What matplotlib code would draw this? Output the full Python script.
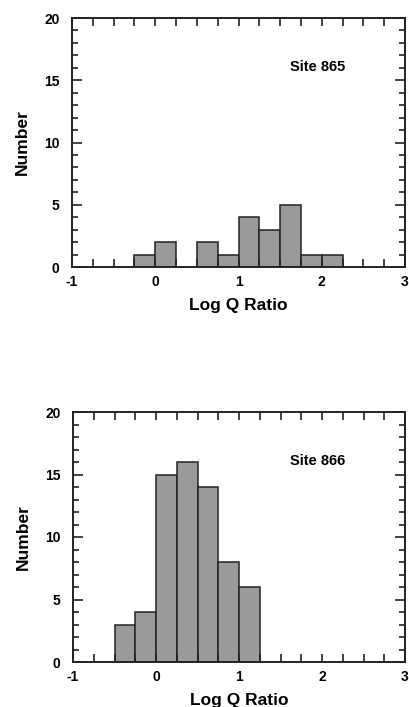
import matplotlib
matplotlib.use('Agg')
import matplotlib.pyplot as plt
from matplotlib.ticker import MultipleLocator

plt.rcParams['font.family'] = ['Liberation Sans', 'DejaVu Sans']
plt.rcParams['font.weight'] = 'bold'

# histogram data: left edge of each 0.25-wide bin and the count in it
bin_width = 0.25
site865_left = [-0.25, 0.0, 0.5, 0.75, 1.0, 1.25, 1.5, 1.75, 2.0]
site865_count = [1, 2, 2, 1, 4, 3, 5, 1, 1]
site866_left = [-0.5, -0.25, 0.0, 0.25, 0.5, 0.75, 1.0]
site866_count = [3, 4, 15, 16, 14, 8, 6]

x_ticks = [-1, 0, 1, 2, 3]
x_labels = ['-1', '0', '1', '2', '3']
y_ticks = [0, 5, 10, 15, 20]

fig = plt.figure(figsize=(4.09, 7.07), dpi=100)
ax1 = fig.add_axes([72 / 409, 440 / 707, 333 / 409, 249 / 707])
ax2 = fig.add_axes([73 / 409, 45 / 707, 332 / 409, 250 / 707])


def draw_hist(ax, lefts, counts, site):
	ax.bar(lefts, counts, width=bin_width, align='edge',
		color='#9a9a9a', edgecolor='#222222', linewidth=1.1)
	ax.set_xlim(-1, 3)
	ax.set_ylim(0, 20)
	ax.set_xticks(x_ticks)
	ax.set_xticklabels(x_labels)
	ax.set_yticks(y_ticks)
	ax.xaxis.set_minor_locator(MultipleLocator(0.25))
	ax.yaxis.set_minor_locator(MultipleLocator(1))
	ax.tick_params(which='both', direction='in', top=True, right=True,
		labelsize=10, width=1.2, color='#222222')
	ax.tick_params(axis='x', which='both', length=6, pad=6)
	ax.tick_params(axis='y', which='major', length=7, pad=9)
	ax.tick_params(axis='y', which='minor', length=4)
	for sp in ax.spines.values():
		sp.set_linewidth(1.4)
		sp.set_color('#222222')
	ax.set_xlabel('Log Q Ratio', fontsize=12.5, fontweight='bold', labelpad=6)
	ax.set_ylabel('Number', fontsize=12.5, fontweight='bold', labelpad=10)
	ax.text(1.62, 16.1, site, fontsize=10.5, fontweight='bold', va='center', ha='left')


draw_hist(ax1, site865_left, site865_count, 'Site 865')
draw_hist(ax2, site866_left, site866_count, 'Site 866')

fig.savefig('out.png', dpi=100)
